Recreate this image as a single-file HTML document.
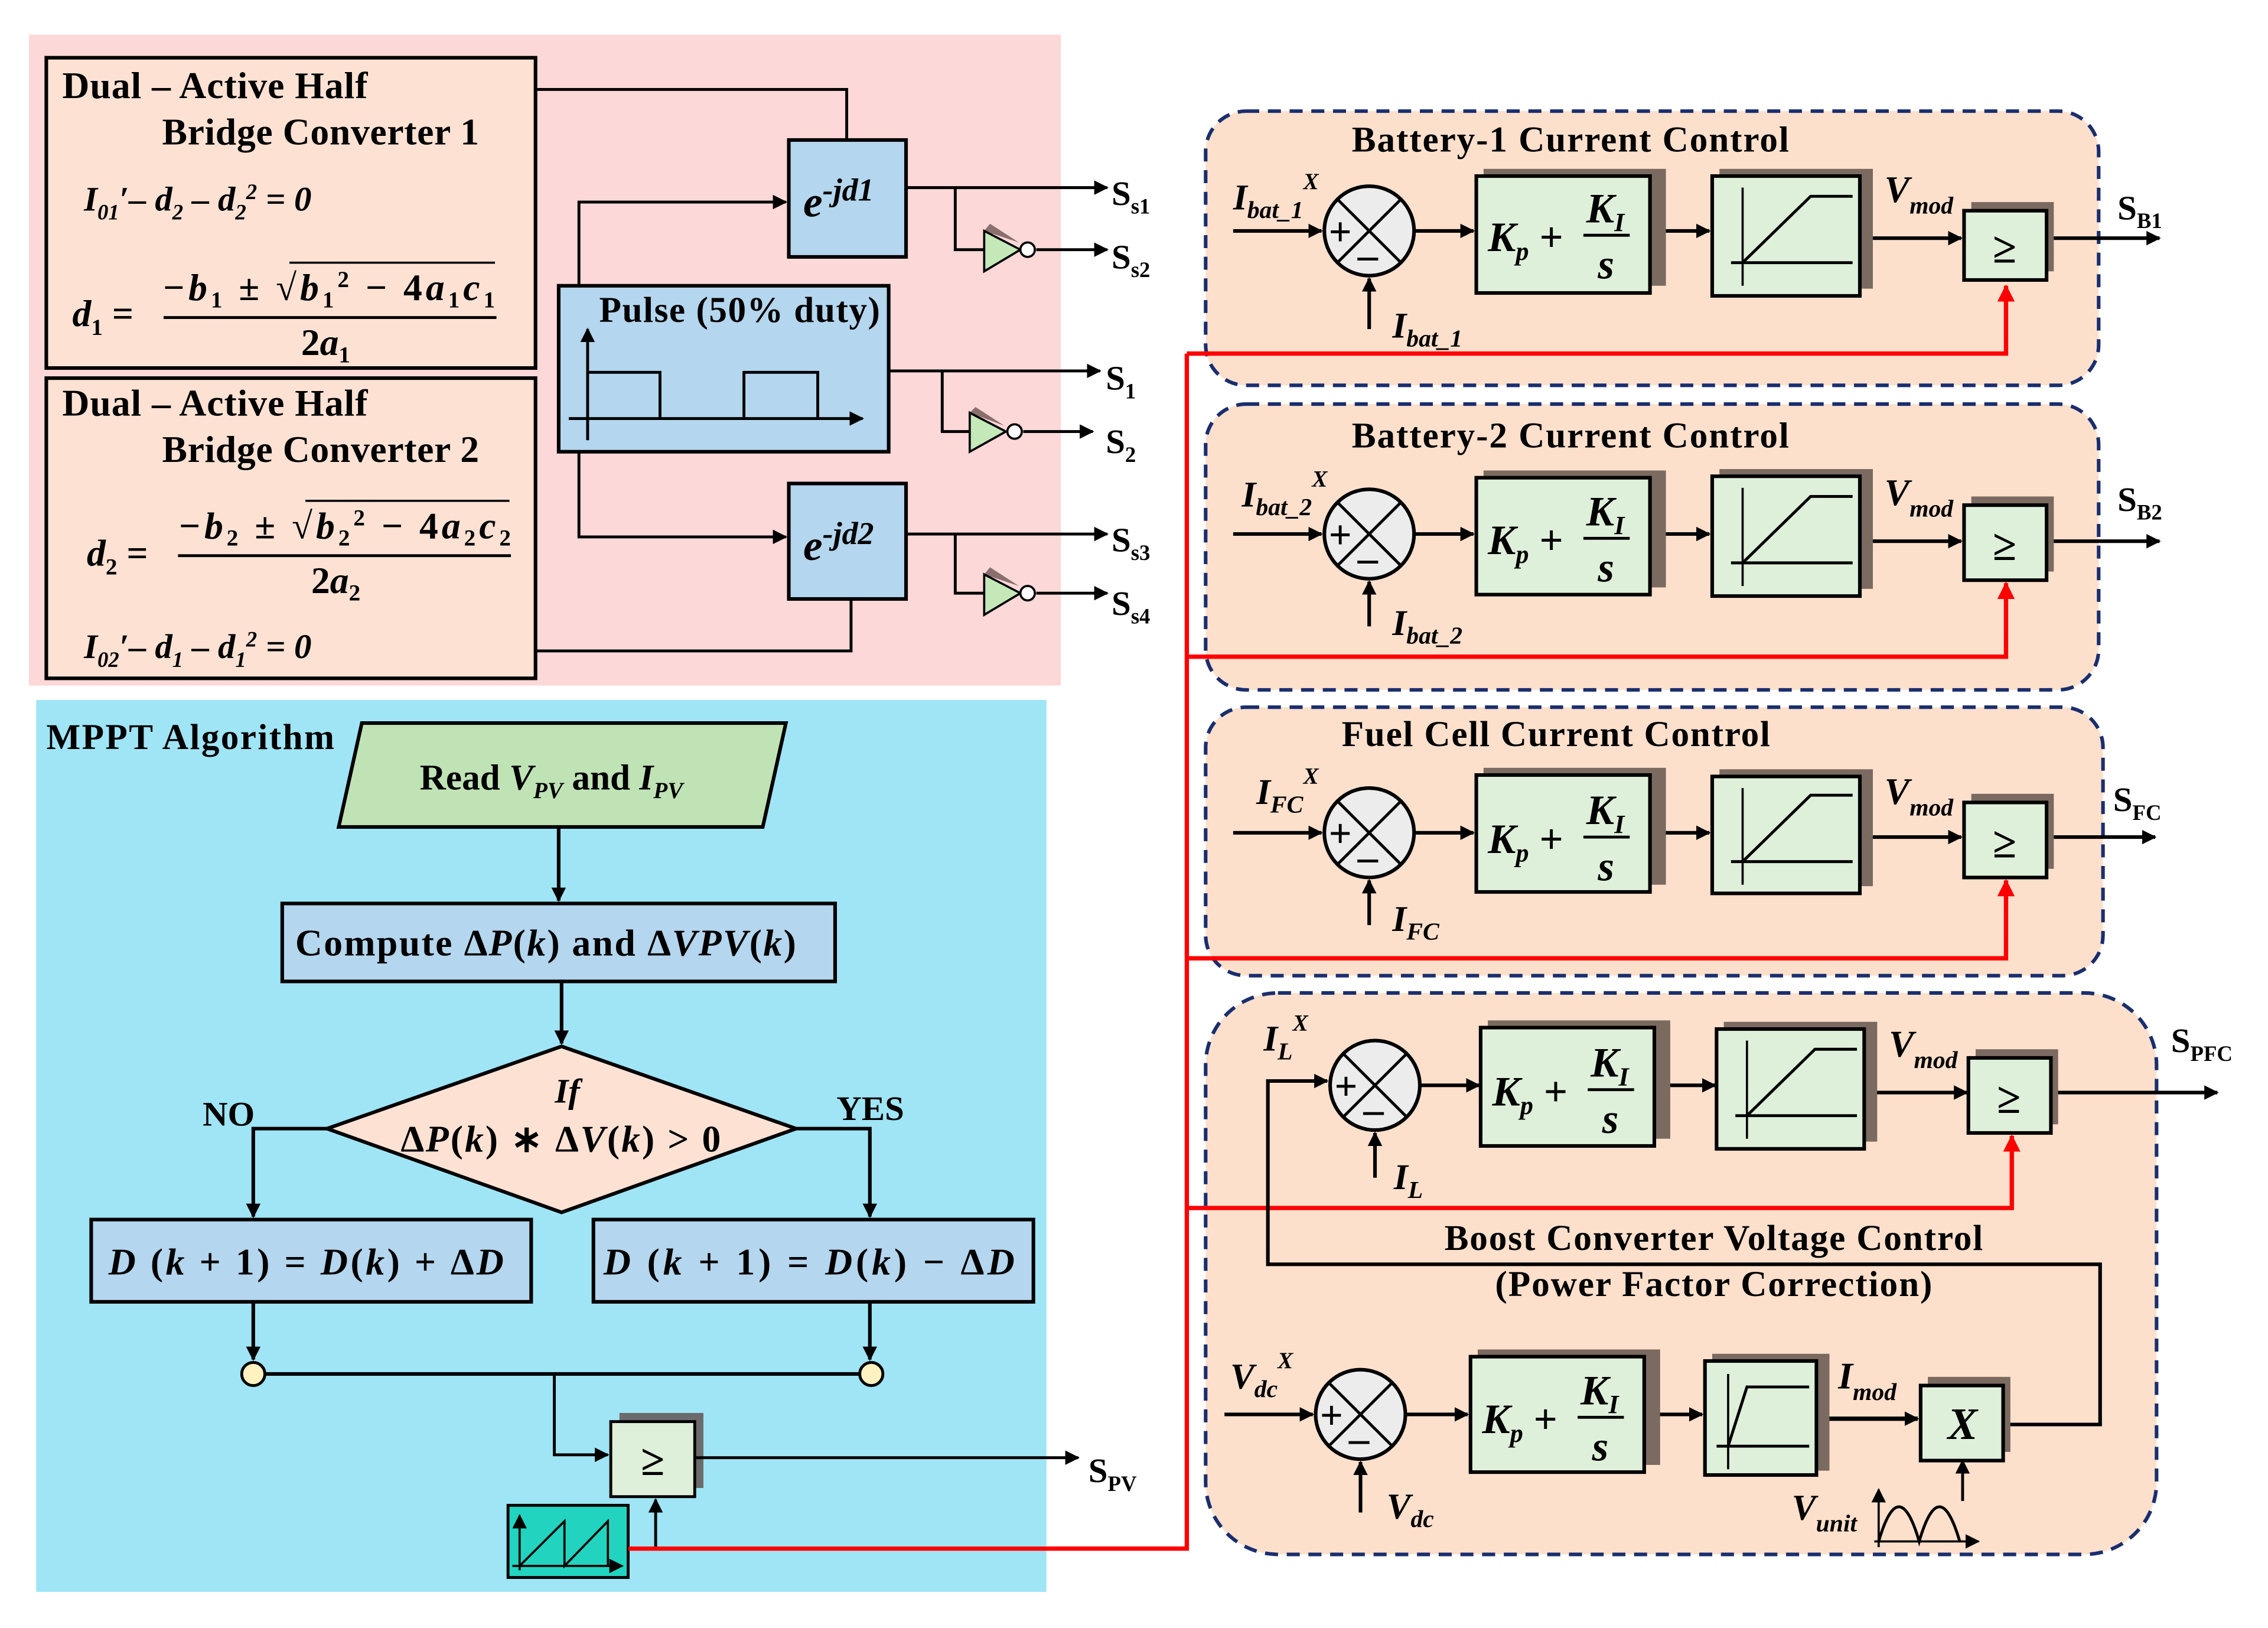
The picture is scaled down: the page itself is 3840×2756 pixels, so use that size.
<!DOCTYPE html>
<html><head><meta charset="utf-8"><style>
html,body{margin:0;padding:0;background:#fff}
svg{display:block}
text{font-family:"Liberation Serif",serif;font-weight:bold;fill:#000}
.i{font-style:italic}
</style></head><body>
<svg width="3840" height="2756" viewBox="0 0 1567 1128" preserveAspectRatio="none" xmlns="http://www.w3.org/2000/svg">
<defs>
<marker id="a" markerWidth="10" markerHeight="10" refX="9" refY="5" orient="auto" markerUnits="userSpaceOnUse"><path d="M0,0 L10,5 L0,10 z" fill="#000"/></marker>
<marker id="r" markerWidth="12" markerHeight="12" refX="11" refY="6" orient="auto" markerUnits="userSpaceOnUse"><path d="M0,0 L12,6 L0,12 z" fill="#f00"/></marker>
</defs>
<rect width="1567" height="1128" fill="#fff"/>
<!-- pink area -->
<rect x="20" y="24" width="713" height="451" fill="#fdd8d8"/>
<rect x="32" y="40" width="338" height="215" fill="#fde2d4" stroke="#000" stroke-width="2.5"/>
<rect x="32" y="262" width="338" height="208" fill="#fde2d4" stroke="#000" stroke-width="2.5"/>
<text x="43" y="68" font-size="26" textLength="211">Dual – Active Half</text>
<text x="112" y="100" font-size="26" textLength="219">Bridge Converter 1</text>
<text x="58" y="146" font-size="24" class="i">I<tspan font-size="15" dy="6">01</tspan><tspan dy="-6">′– d</tspan><tspan font-size="15" dy="6">2</tspan><tspan dy="-6"> – d</tspan><tspan font-size="15" dy="6">2</tspan><tspan font-size="15" dy="-14">2</tspan><tspan dy="8"> = 0</tspan></text>
<text x="50" y="226" font-size="26" class="i">d<tspan font-size="16" dy="6" font-style="normal">1</tspan><tspan dy="-6" font-style="normal"> =</tspan></text>
<text x="112" y="208" font-size="26" class="i" textLength="230">−b<tspan font-size="16" dy="5" font-style="normal">1</tspan><tspan dy="-5" font-style="normal"> ± √</tspan>b<tspan font-size="16" dy="5" font-style="normal">1</tspan><tspan font-size="16" dy="-14" font-style="normal">2</tspan><tspan dy="9" font-style="normal"> − 4</tspan>a<tspan font-size="16" dy="5" font-style="normal">1</tspan><tspan dy="-5">c</tspan><tspan font-size="16" dy="5" font-style="normal">1</tspan></text>
<line x1="200" y1="182" x2="342" y2="182" stroke="#000" stroke-width="1.5"/>
<line x1="113" y1="220" x2="343" y2="220" stroke="#000" stroke-width="2"/>
<text x="208" y="246" font-size="26" class="i"><tspan font-style="normal">2</tspan>a<tspan font-size="16" dy="5" font-style="normal">1</tspan></text>
<text x="43" y="288" font-size="26" textLength="211">Dual – Active Half</text>
<text x="112" y="320" font-size="26" textLength="219">Bridge Converter 2</text>
<text x="60" y="392" font-size="26" class="i">d<tspan font-size="16" dy="6" font-style="normal">2</tspan><tspan dy="-6" font-style="normal"> =</tspan></text>
<text x="123" y="373" font-size="26" class="i" textLength="230">−b<tspan font-size="16" dy="5" font-style="normal">2</tspan><tspan dy="-5" font-style="normal"> ± √</tspan>b<tspan font-size="16" dy="5" font-style="normal">2</tspan><tspan font-size="16" dy="-14" font-style="normal">2</tspan><tspan dy="9" font-style="normal"> − 4</tspan>a<tspan font-size="16" dy="5" font-style="normal">2</tspan><tspan dy="-5">c</tspan><tspan font-size="16" dy="5" font-style="normal">2</tspan></text>
<line x1="211" y1="347" x2="352" y2="347" stroke="#000" stroke-width="1.5"/>
<line x1="123" y1="385" x2="353" y2="385" stroke="#000" stroke-width="2"/>
<text x="215" y="411" font-size="26" class="i"><tspan font-style="normal">2</tspan>a<tspan font-size="16" dy="5" font-style="normal">2</tspan></text>
<text x="58" y="456" font-size="24" class="i">I<tspan font-size="15" dy="6">02</tspan><tspan dy="-6">′– d</tspan><tspan font-size="15" dy="6">1</tspan><tspan dy="-6"> – d</tspan><tspan font-size="15" dy="6">1</tspan><tspan font-size="15" dy="-14">2</tspan><tspan dy="8"> = 0</tspan></text>

<g stroke="#000" stroke-width="2" fill="none">
<polyline points="370,62 585,62 585,97"/>
<polyline points="400,198 400,140 543,140" marker-end="url(#a)"/>
<polyline points="400,313 400,372 543,372" marker-end="url(#a)"/>
<polyline points="370,451 588,451 588,415"/>
<line x1="626" y1="130" x2="765" y2="130" marker-end="url(#a)"/>
<polyline points="660,130 660,173 680,173"/>
<line x1="716" y1="173" x2="765" y2="173" marker-end="url(#a)"/>
<line x1="614" y1="257" x2="760" y2="257" marker-end="url(#a)"/>
<polyline points="651,257 651,299 670,299"/>
<line x1="707" y1="299" x2="755" y2="299" marker-end="url(#a)"/>
<line x1="626" y1="370" x2="765" y2="370" marker-end="url(#a)"/>
<polyline points="660,370 660,411 680,411"/>
<line x1="716" y1="411" x2="765" y2="411" marker-end="url(#a)"/>
</g>
<rect x="545" y="97" width="81" height="81" fill="#b4d6ee" stroke="#000" stroke-width="2.5"/>
<text x="555" y="150" font-size="30" class="i">e<tspan font-size="22" dy="-11">-jd1</tspan></text>
<rect x="545" y="335" width="81" height="80" fill="#b4d6ee" stroke="#000" stroke-width="2.5"/>
<text x="555" y="388" font-size="30" class="i">e<tspan font-size="22" dy="-11">-jd2</tspan></text>
<rect x="386" y="198" width="228" height="115" fill="#b4d6ee" stroke="#000" stroke-width="2.5"/>
<text x="414" y="223" font-size="25" textLength="194">Pulse (50% duty)</text>
<line x1="406" y1="305" x2="406" y2="228" stroke="#000" stroke-width="2" marker-end="url(#a)"/>
<line x1="393" y1="290" x2="596" y2="290" stroke="#000" stroke-width="2" marker-end="url(#a)"/>
<polyline points="406,258 456,258 456,290" fill="none" stroke="#000" stroke-width="2"/>
<polyline points="514,290 514,258 565,258 565,290" fill="none" stroke="#000" stroke-width="2"/>
<!-- inverters -->
<g stroke="#000" stroke-width="1.5">
<polygon points="684,155 704,168 680,160" fill="#8a6f6f" stroke="none"/>
<polygon points="680,160 680,188 705,173" fill="#c5e8b8"/><circle cx="710" cy="173" r="5" fill="#fff"/>
<polygon points="674,282 694,295 670,286" fill="#8a6f6f" stroke="none"/>
<polygon points="670,286 670,313 695,299" fill="#c5e8b8"/><circle cx="701" cy="299" r="5" fill="#fff"/>
<polygon points="684,393 704,406 680,398" fill="#8a6f6f" stroke="none"/>
<polygon points="680,398 680,426 705,411" fill="#c5e8b8"/><circle cx="710" cy="411" r="5" fill="#fff"/>
</g>
<text x="768" y="142" font-size="24">S<tspan font-size="15" dy="6">s1</tspan></text>
<text x="768" y="186" font-size="24">S<tspan font-size="15" dy="6">s2</tspan></text>
<text x="764" y="270" font-size="24">S<tspan font-size="15" dy="6">1</tspan></text>
<text x="764" y="314" font-size="24">S<tspan font-size="15" dy="6">2</tspan></text>
<text x="768" y="382" font-size="24">S<tspan font-size="15" dy="6">s3</tspan></text>
<text x="768" y="426" font-size="24">S<tspan font-size="15" dy="6">s4</tspan></text>

<!-- MPPT -->
<rect x="25" y="485" width="698" height="618" fill="#9fe5f6"/>
<text x="32" y="519" font-size="25" textLength="199">MPPT Algorithm</text>
<polygon points="250,501 543,501 527,573 234,573" fill="#c0e3b6" stroke="#000" stroke-width="2.5"/>
<text x="290" y="547" font-size="25">Read <tspan class="i">V</tspan><tspan class="i" font-size="16" dy="6">PV</tspan><tspan dy="-6"> and </tspan><tspan class="i">I</tspan><tspan class="i" font-size="16" dy="6">PV</tspan></text>
<rect x="195" y="626" width="382" height="54" fill="#b4d6ee" stroke="#000" stroke-width="2.5"/>
<text x="204" y="662" font-size="26" textLength="346">Compute ∆<tspan class="i">P</tspan>(<tspan class="i">k</tspan>) and ∆<tspan class="i">VPV</tspan>(<tspan class="i">k</tspan>)</text>
<polygon points="388,725 550,782 388,840 226,782" fill="#fde2d4" stroke="#000" stroke-width="2.5"/>
<text x="392" y="764" font-size="24" class="i" text-anchor="middle">If</text>
<text x="277" y="798" font-size="26" textLength="221">∆<tspan class="i">P</tspan>(<tspan class="i">k</tspan>) ∗ ∆<tspan class="i">V</tspan>(<tspan class="i">k</tspan>) &gt; 0</text>
<text x="140" y="780" font-size="24">NO</text>
<text x="578" y="776" font-size="24">YES</text>
<rect x="63" y="845" width="304" height="57" fill="#b4d6ee" stroke="#000" stroke-width="2.5"/>
<text x="75" y="883" font-size="26" class="i" textLength="273">D <tspan font-style="normal">(</tspan>k<tspan font-style="normal"> + 1) = </tspan>D<tspan font-style="normal">(</tspan>k<tspan font-style="normal">) + ∆</tspan>D</text>
<rect x="410" y="845" width="304" height="57" fill="#b4d6ee" stroke="#000" stroke-width="2.5"/>
<text x="417" y="883" font-size="26" class="i" textLength="284">D <tspan font-style="normal">(</tspan>k<tspan font-style="normal"> + 1) = </tspan>D<tspan font-style="normal">(</tspan>k<tspan font-style="normal">)  −  ∆</tspan>D</text>
<g stroke="#000" stroke-width="2.5" fill="none">
<line x1="386" y1="573" x2="386" y2="624" marker-end="url(#a)"/>
<line x1="388" y1="680" x2="388" y2="723" marker-end="url(#a)"/>
<polyline points="226,782 175,782 175,843" marker-end="url(#a)"/>
<polyline points="550,782 601,782 601,843" marker-end="url(#a)"/>
<line x1="175" y1="902" x2="175" y2="942" marker-end="url(#a)"/>
<line x1="601" y1="902" x2="601" y2="942" marker-end="url(#a)"/>
<line x1="175" y1="952" x2="601" y2="952"/>
</g>
<circle cx="175" cy="952" r="8" fill="#fff2c0" stroke="#000" stroke-width="2"/>
<circle cx="602" cy="952" r="8" fill="#fff2c0" stroke="#000" stroke-width="2"/>
<polyline points="383,952 383,1008 420,1008" fill="none" stroke="#000" stroke-width="2" marker-end="url(#a)"/>
<rect x="428" y="979" width="58" height="52" fill="#6b6b6b"/>
<rect x="422" y="985" width="58" height="52" fill="#dff0da" stroke="#000" stroke-width="2"/>
<text x="451" y="1022" font-size="30" text-anchor="middle" font-weight="normal">≥</text>
<line x1="480" y1="1010" x2="745" y2="1010" stroke="#000" stroke-width="2" marker-end="url(#a)"/>
<text x="752" y="1027" font-size="24">S<tspan font-size="15" dy="6">PV</tspan></text>
<rect x="351" y="1043" width="83" height="50" fill="#22d4c0" stroke="#000" stroke-width="2"/>
<line x1="359" y1="1088" x2="359" y2="1050" stroke="#000" stroke-width="1.5" marker-end="url(#a)"/>
<line x1="354" y1="1085" x2="430" y2="1085" stroke="#000" stroke-width="1.5" marker-end="url(#a)"/>
<polyline points="359,1085 390,1054 390,1085 420,1054 420,1085" fill="none" stroke="#000" stroke-width="1.5"/>
<polyline points="434,1073 453,1073 453,1039" fill="none" stroke="#000" stroke-width="2" marker-end="url(#a)"/>

<!-- right panels -->
<g fill="#fde0cc" stroke="#1a2e6e" stroke-width="2.5" stroke-dasharray="9,6">
<rect x="833" y="77" width="617" height="190" rx="28"/>
<rect x="833" y="280" width="617" height="198" rx="28"/>
<rect x="833" y="490" width="620" height="186" rx="28"/>
<rect x="833" y="688" width="657" height="389" rx="50"/>
</g>
<text x="934" y="105" font-size="25" textLength="302">Battery-1 Current Control</text>
<text x="934" y="310" font-size="25" textLength="302">Battery-2 Current Control</text>
<text x="927" y="517" font-size="25" textLength="296">Fuel Cell Current Control</text>
<text x="998" y="866" font-size="25" textLength="372">Boost Converter Voltage Control</text>
<text x="1033" y="898" font-size="25" textLength="302">(Power Factor Correction)</text>

<!-- red lines -->
<g stroke="#f00" stroke-width="3" fill="none">
<polyline points="434,1073 820,1073 820,245"/>
<polyline points="820,245 1386,245 1386,198" marker-end="url(#r)"/>
<polyline points="820,455 1386,455 1386,404" marker-end="url(#r)"/>
<polyline points="820,664 1386,664 1386,610" marker-end="url(#r)"/>
<polyline points="820,837 1390,837 1390,787" marker-end="url(#r)"/>
</g>

<g transform="translate(946,160)">
<g stroke="#000" stroke-width="2.5" fill="none">
<line x1="-94" y1="0" x2="-33" y2="0" marker-end="url(#a)"/>
<line x1="0" y1="68" x2="0" y2="33" marker-end="url(#a)"/>
<line x1="31" y1="0" x2="72" y2="0" marker-end="url(#a)"/>
<line x1="194" y1="0" x2="235" y2="0" marker-end="url(#a)"/>
<line x1="339" y1="5" x2="409" y2="5" marker-end="url(#a)"/>
<line x1="468" y1="5" x2="546" y2="5" marker-end="url(#a)"/>
</g>
<circle r="31" fill="#ececec" stroke="#000" stroke-width="2.5"/>
<line x1="-22" y1="-22" x2="22" y2="22" stroke="#000" stroke-width="2"/><line x1="22" y1="-22" x2="-22" y2="22" stroke="#000" stroke-width="2"/>
<text x="-28" y="10" font-size="28" font-weight="normal">+</text><text x="-8" y="26" font-size="28">–</text>
<rect x="79" y="-43" width="126" height="81" fill="#7a6a60"/>
<rect x="74" y="-38" width="120" height="81" fill="#dff0da" stroke="#000" stroke-width="2.5"/>
<text x="82" y="14" font-size="29" class="i">K<tspan font-size="18" dy="6">p</tspan><tspan dy="-6" font-style="normal"> +</tspan></text>
<text x="150" y="-6" font-size="29" class="i">K<tspan font-size="18" dy="6">I</tspan></text>
<line x1="148" y1="3" x2="180" y2="3" stroke="#000" stroke-width="2"/>
<text x="158" y="33" font-size="29" class="i">s</text>
<rect x="242" y="-43" width="106" height="83" fill="#7a6a60"/>
<rect x="237" y="-38" width="102" height="83" fill="#dff0da" stroke="#000" stroke-width="2.5"/>
<line x1="258" y1="-30" x2="258" y2="38" stroke="#000" stroke-width="1.5"/>
<line x1="250" y1="22" x2="334" y2="22" stroke="#000" stroke-width="2"/>
<polyline points="258,22 305,-24 334,-24" fill="none" stroke="#000" stroke-width="2"/>
<rect x="416" y="-20" width="57" height="48" fill="#7a6a60"/>
<rect x="411" y="-14" width="57" height="48" fill="#dff0da" stroke="#000" stroke-width="2.5"/>
<text x="439" y="22" font-size="30" text-anchor="middle" font-weight="normal">≥</text>
<text x="356" y="-20" font-size="26" class="i">V<tspan font-size="17" dy="8">mod</tspan></text>
</g>
<text x="852" y="145" font-size="25" class="i">I<tspan font-size="17" dy="6">bat_1</tspan><tspan font-size="16" dy="-20">X</tspan></text>
<text x="962" y="234" font-size="25" class="i">I<tspan font-size="17" dy="6">bat_1</tspan></text>
<text x="1463" y="152" font-size="24">S<tspan font-size="15" dy="6">B1</tspan></text>

<g transform="translate(946,370)">
<g stroke="#000" stroke-width="2.5" fill="none">
<line x1="-94" y1="0" x2="-33" y2="0" marker-end="url(#a)"/>
<line x1="0" y1="64" x2="0" y2="33" marker-end="url(#a)"/>
<line x1="31" y1="0" x2="72" y2="0" marker-end="url(#a)"/>
<line x1="194" y1="0" x2="235" y2="0" marker-end="url(#a)"/>
<line x1="339" y1="5" x2="409" y2="5" marker-end="url(#a)"/>
<line x1="468" y1="5" x2="546" y2="5" marker-end="url(#a)"/>
</g>
<circle r="31" fill="#ececec" stroke="#000" stroke-width="2.5"/>
<line x1="-22" y1="-22" x2="22" y2="22" stroke="#000" stroke-width="2"/><line x1="22" y1="-22" x2="-22" y2="22" stroke="#000" stroke-width="2"/>
<text x="-28" y="10" font-size="28" font-weight="normal">+</text><text x="-8" y="26" font-size="28">–</text>
<rect x="79" y="-44" width="126" height="81" fill="#7a6a60"/>
<rect x="74" y="-39" width="120" height="81" fill="#dff0da" stroke="#000" stroke-width="2.5"/>
<text x="82" y="14" font-size="29" class="i">K<tspan font-size="18" dy="6">p</tspan><tspan dy="-6" font-style="normal"> +</tspan></text>
<text x="150" y="-6" font-size="29" class="i">K<tspan font-size="18" dy="6">I</tspan></text>
<line x1="148" y1="3" x2="180" y2="3" stroke="#000" stroke-width="2"/>
<text x="158" y="33" font-size="29" class="i">s</text>
<rect x="242" y="-45" width="106" height="83" fill="#7a6a60"/>
<rect x="237" y="-40" width="102" height="83" fill="#dff0da" stroke="#000" stroke-width="2.5"/>
<line x1="258" y1="-32" x2="258" y2="36" stroke="#000" stroke-width="1.5"/>
<line x1="250" y1="20" x2="334" y2="20" stroke="#000" stroke-width="2"/>
<polyline points="258,20 305,-26 334,-26" fill="none" stroke="#000" stroke-width="2"/>
<rect x="416" y="-26" width="57" height="52" fill="#7a6a60"/>
<rect x="411" y="-20" width="57" height="52" fill="#dff0da" stroke="#000" stroke-width="2.5"/>
<text x="439" y="18" font-size="30" text-anchor="middle" font-weight="normal">≥</text>
<text x="356" y="-20" font-size="26" class="i">V<tspan font-size="17" dy="8">mod</tspan></text>
</g>
<text x="858" y="351" font-size="25" class="i">I<tspan font-size="17" dy="6">bat_2</tspan><tspan font-size="16" dy="-20">X</tspan></text>
<text x="962" y="440" font-size="25" class="i">I<tspan font-size="17" dy="6">bat_2</tspan></text>
<text x="1463" y="354" font-size="24">S<tspan font-size="15" dy="6">B2</tspan></text>

<g transform="translate(946,577)">
<g stroke="#000" stroke-width="2.5" fill="none">
<line x1="-94" y1="0" x2="-33" y2="0" marker-end="url(#a)"/>
<line x1="0" y1="64" x2="0" y2="33" marker-end="url(#a)"/>
<line x1="31" y1="0" x2="72" y2="0" marker-end="url(#a)"/>
<line x1="194" y1="0" x2="235" y2="0" marker-end="url(#a)"/>
<line x1="339" y1="3" x2="409" y2="3" marker-end="url(#a)"/>
<line x1="468" y1="3" x2="543" y2="3" marker-end="url(#a)"/>
</g>
<circle r="31" fill="#ececec" stroke="#000" stroke-width="2.5"/>
<line x1="-22" y1="-22" x2="22" y2="22" stroke="#000" stroke-width="2"/><line x1="22" y1="-22" x2="-22" y2="22" stroke="#000" stroke-width="2"/>
<text x="-28" y="10" font-size="28" font-weight="normal">+</text><text x="-8" y="26" font-size="28">–</text>
<rect x="79" y="-45" width="126" height="81" fill="#7a6a60"/>
<rect x="74" y="-40" width="120" height="81" fill="#dff0da" stroke="#000" stroke-width="2.5"/>
<text x="82" y="14" font-size="29" class="i">K<tspan font-size="18" dy="6">p</tspan><tspan dy="-6" font-style="normal"> +</tspan></text>
<text x="150" y="-6" font-size="29" class="i">K<tspan font-size="18" dy="6">I</tspan></text>
<line x1="148" y1="3" x2="180" y2="3" stroke="#000" stroke-width="2"/>
<text x="158" y="33" font-size="29" class="i">s</text>
<rect x="242" y="-44" width="106" height="81" fill="#7a6a60"/>
<rect x="237" y="-39" width="102" height="81" fill="#dff0da" stroke="#000" stroke-width="2.5"/>
<line x1="258" y1="-31" x2="258" y2="36" stroke="#000" stroke-width="1.5"/>
<line x1="250" y1="20" x2="334" y2="20" stroke="#000" stroke-width="2"/>
<polyline points="258,20 305,-26 334,-26" fill="none" stroke="#000" stroke-width="2"/>
<rect x="416" y="-27" width="57" height="52" fill="#7a6a60"/>
<rect x="411" y="-21" width="57" height="52" fill="#dff0da" stroke="#000" stroke-width="2.5"/>
<text x="439" y="17" font-size="30" text-anchor="middle" font-weight="normal">≥</text>
<text x="356" y="-20" font-size="26" class="i">V<tspan font-size="17" dy="8">mod</tspan></text>
</g>
<text x="868" y="557" font-size="25" class="i">I<tspan font-size="17" dy="6">FC</tspan><tspan font-size="16" dy="-20">X</tspan></text>
<text x="962" y="645" font-size="25" class="i">I<tspan font-size="17" dy="6">FC</tspan></text>
<text x="1460" y="562" font-size="24">S<tspan font-size="15" dy="6">FC</tspan></text>

<!-- panel 4 upper -->
<g transform="translate(950,752)">
<g stroke="#000" stroke-width="2.5" fill="none">
<line x1="0" y1="64" x2="0" y2="33" marker-end="url(#a)"/>
<line x1="31" y1="0" x2="72" y2="0" marker-end="url(#a)"/>
<line x1="194" y1="0" x2="235" y2="0" marker-end="url(#a)"/>
<line x1="339" y1="5" x2="409" y2="5" marker-end="url(#a)"/>
<line x1="468" y1="5" x2="582" y2="5" marker-end="url(#a)"/>
</g>
<circle r="31" fill="#ececec" stroke="#000" stroke-width="2.5"/>
<line x1="-22" y1="-22" x2="22" y2="22" stroke="#000" stroke-width="2"/><line x1="22" y1="-22" x2="-22" y2="22" stroke="#000" stroke-width="2"/>
<text x="-28" y="10" font-size="28" font-weight="normal">+</text><text x="-8" y="26" font-size="28">–</text>
<rect x="78" y="-45" width="126" height="82" fill="#7a6a60"/>
<rect x="73" y="-40" width="120" height="82" fill="#dff0da" stroke="#000" stroke-width="2.5"/>
<text x="81" y="14" font-size="29" class="i">K<tspan font-size="18" dy="6">p</tspan><tspan dy="-6" font-style="normal"> +</tspan></text>
<text x="149" y="-6" font-size="29" class="i">K<tspan font-size="18" dy="6">I</tspan></text>
<line x1="147" y1="3" x2="179" y2="3" stroke="#000" stroke-width="2"/>
<text x="157" y="33" font-size="29" class="i">s</text>
<rect x="241" y="-44" width="106" height="83" fill="#7a6a60"/>
<rect x="236" y="-39" width="102" height="83" fill="#dff0da" stroke="#000" stroke-width="2.5"/>
<line x1="257" y1="-31" x2="257" y2="37" stroke="#000" stroke-width="1.5"/>
<line x1="249" y1="21" x2="333" y2="21" stroke="#000" stroke-width="2"/>
<polyline points="257,21 304,-25 333,-25" fill="none" stroke="#000" stroke-width="2"/>
<rect x="415" y="-25" width="57" height="52" fill="#7a6a60"/>
<rect x="410" y="-19" width="57" height="52" fill="#dff0da" stroke="#000" stroke-width="2.5"/>
<text x="438" y="19" font-size="30" text-anchor="middle" font-weight="normal">≥</text>
<text x="355" y="-20" font-size="26" class="i">V<tspan font-size="17" dy="8">mod</tspan></text>
</g>
<text x="873" y="728" font-size="25" class="i">I<tspan font-size="17" dy="6">L</tspan><tspan font-size="16" dy="-20">X</tspan></text>
<text x="963" y="824" font-size="25" class="i">I<tspan font-size="17" dy="6">L</tspan></text>
<text x="1500" y="729" font-size="24">S<tspan font-size="15" dy="6">PFC</tspan></text>
<polyline points="1385,987 1451,987 1451,876 876,876 876,749 917,749" fill="none" stroke="#000" stroke-width="2.5" marker-end="url(#a)"/>

<!-- panel 4 lower -->
<g transform="translate(940,980)">
<g stroke="#000" stroke-width="2.5" fill="none">
<line x1="-94" y1="0" x2="-33" y2="0" marker-end="url(#a)"/>
<line x1="0" y1="68" x2="0" y2="33" marker-end="url(#a)"/>
<line x1="31" y1="0" x2="74" y2="0" marker-end="url(#a)"/>
<line x1="196" y1="0" x2="236" y2="0" marker-end="url(#a)"/>
<line x1="315" y1="3" x2="385" y2="3" marker-end="url(#a)" stroke-width="3"/>
</g>
<circle r="31" fill="#ececec" stroke="#000" stroke-width="2.5"/>
<line x1="-22" y1="-22" x2="22" y2="22" stroke="#000" stroke-width="2"/><line x1="22" y1="-22" x2="-22" y2="22" stroke="#000" stroke-width="2"/>
<text x="-28" y="10" font-size="28" font-weight="normal">+</text><text x="-8" y="26" font-size="28">–</text>
<rect x="81" y="-45" width="126" height="80" fill="#7a6a60"/>
<rect x="76" y="-40" width="120" height="80" fill="#dff0da" stroke="#000" stroke-width="2.5"/>
<text x="84" y="13" font-size="29" class="i">K<tspan font-size="18" dy="6">p</tspan><tspan dy="-6" font-style="normal"> +</tspan></text>
<text x="152" y="-7" font-size="29" class="i">K<tspan font-size="18" dy="6">I</tspan></text>
<line x1="150" y1="2" x2="182" y2="2" stroke="#000" stroke-width="2"/>
<text x="160" y="32" font-size="29" class="i">s</text>
<rect x="243" y="-42" width="81" height="81" fill="#7a6a60"/>
<rect x="238" y="-37" width="77" height="79" fill="#dff0da" stroke="#000" stroke-width="2.5"/>
<line x1="254" y1="-28" x2="254" y2="38" stroke="#000" stroke-width="1.5"/>
<line x1="246" y1="22" x2="310" y2="22" stroke="#000" stroke-width="2"/>
<polyline points="254,22 267,-19 310,-19" fill="none" stroke="#000" stroke-width="2"/>
<rect x="392" y="-26" width="57" height="52" fill="#7a6a60"/>
<rect x="387" y="-20" width="57" height="52" fill="#dff0da" stroke="#000" stroke-width="2.5"/>
<text x="416" y="17" font-size="31" class="i" text-anchor="middle">X</text>
<text x="330" y="-18" font-size="26" class="i">I<tspan font-size="17" dy="8">mod</tspan></text>
</g>
<text x="850" y="962" font-size="25" class="i">V<tspan font-size="17" dy="6">dc</tspan><tspan font-size="16" dy="-20">X</tspan></text>
<text x="958" y="1052" font-size="25" class="i">V<tspan font-size="17" dy="6">dc</tspan></text>
<text x="1238" y="1053" font-size="25" class="i">V<tspan font-size="17" dy="8">unit</tspan></text>
<line x1="1298" y1="1072" x2="1298" y2="1032" stroke="#000" stroke-width="1.5" marker-end="url(#a)"/>
<line x1="1295" y1="1068" x2="1367" y2="1068" stroke="#000" stroke-width="1.5" marker-end="url(#a)"/>
<path d="M1298,1068 Q1312,1020 1326,1068 Q1340,1020 1354,1068" fill="none" stroke="#000" stroke-width="2"/>
<line x1="1356" y1="1040" x2="1356" y2="1012" stroke="#000" stroke-width="2" marker-end="url(#a)"/>
</svg>
</body></html>
